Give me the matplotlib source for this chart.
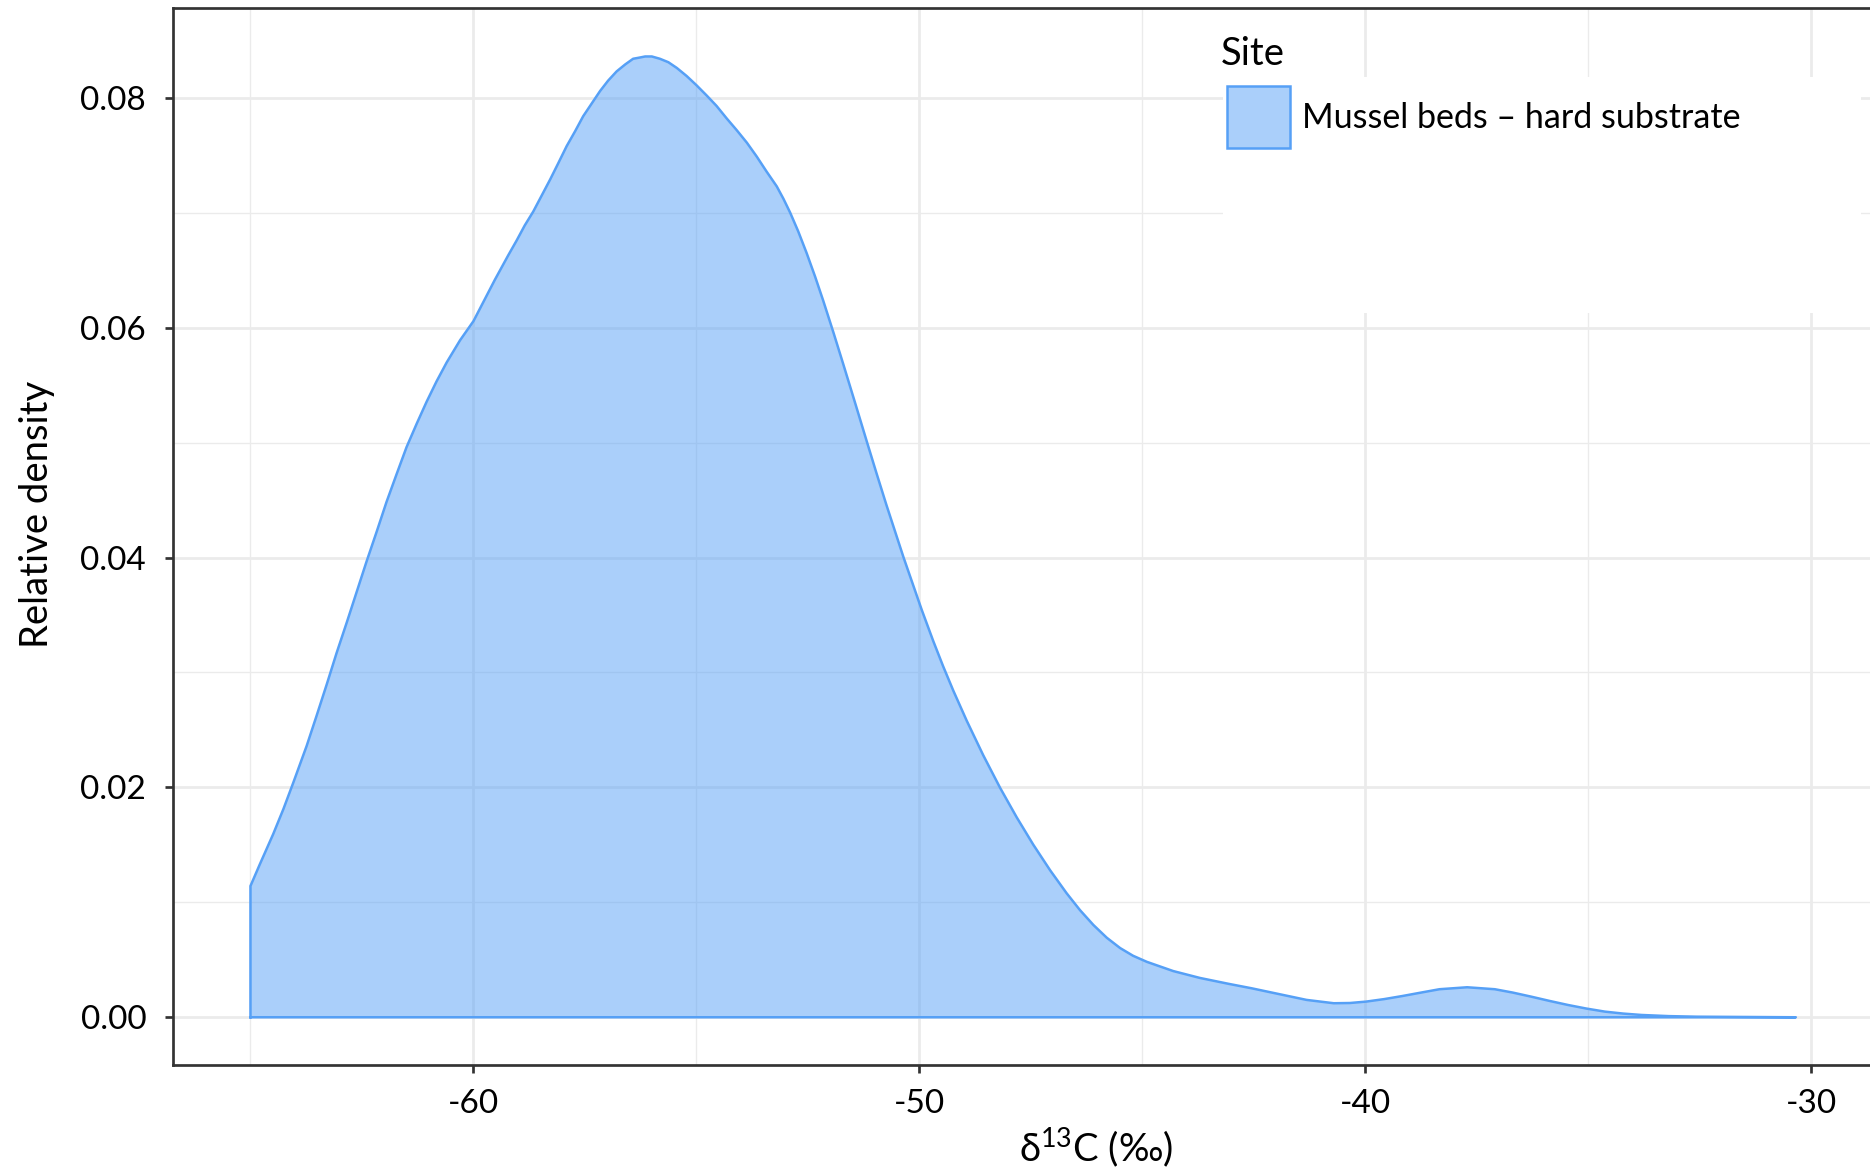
import matplotlib
matplotlib.use("Agg")
import matplotlib.pyplot as plt
from matplotlib.patches import Rectangle
from matplotlib.ticker import FixedLocator

plt.rcParams["font.family"] = ["Lato", "DejaVu Sans"]
plt.rcParams["mathtext.default"] = "regular"

# Kernel density of d13C for the mussel-bed site
d13c = [-65.00, -65.00, -64.79, -64.49, -64.26, -64.04, -63.74, -63.52, -63.29, -63.07,
        -62.84, -62.62, -62.40, -62.17, -61.95, -61.72, -61.50, -61.27, -61.05, -60.83,
        -60.60, -60.30, -60.00, -59.52, -59.22, -59.03, -58.85, -58.66, -58.47, -58.28,
        -58.10, -57.91, -57.72, -57.54, -57.35, -57.16, -56.98, -56.79, -56.60, -56.42,
        -56.28, -56.15, -56.00, -55.82, -55.63, -55.44, -55.22, -55.00, -54.77, -54.55,
        -54.32, -54.10, -53.87, -53.65, -53.43, -53.20, -53.05, -52.90, -52.72, -52.53,
        -52.34, -52.16, -51.93, -51.71, -51.45, -51.18, -50.96, -50.74, -50.36, -49.95,
        -49.69, -49.47, -49.24, -48.94, -48.57, -48.19, -47.82, -47.45, -47.07, -46.70,
        -46.40, -46.10, -45.80, -45.50, -45.21, -44.90, -44.31, -43.71, -43.07, -42.55,
        -42.04, -41.32, -40.71, -40.35, -39.99, -39.58, -39.17, -38.75, -38.34, -37.72,
        -37.10, -36.70, -36.28, -35.87, -35.46, -35.05, -34.63, -34.22, -33.81, -33.20,
        -32.57, -30.35]
density = [0.0, 0.01142, 0.01331, 0.01594, 0.01813, 0.02041, 0.02361, 0.02620, 0.02896, 0.03168,
           0.03436, 0.03699, 0.03962, 0.04225, 0.04483, 0.04729, 0.04961, 0.05167, 0.05356, 0.05531,
           0.05698, 0.05891, 0.06057, 0.06417, 0.0663, 0.0676, 0.0689, 0.0701, 0.0715, 0.0729,
           0.0743, 0.0758, 0.0771, 0.0784, 0.0795, 0.0806, 0.0815, 0.0823, 0.0829, 0.0834,
           0.0835, 0.0836, 0.0836, 0.0834, 0.0831, 0.0826, 0.0819, 0.0811, 0.0802, 0.0793,
           0.0782, 0.0772, 0.0761, 0.0749, 0.0736, 0.0723, 0.07122, 0.07002, 0.06840, 0.06650,
           0.06445, 0.06238, 0.05960, 0.05685, 0.05355, 0.05009, 0.04730, 0.04457, 0.04005, 0.03546,
           0.03273, 0.03055, 0.02841, 0.02580, 0.02280, 0.01995, 0.01740, 0.01503, 0.01279, 0.01079,
           0.00932, 0.00803, 0.00692, 0.00602, 0.00535, 0.00482, 0.00402, 0.00342, 0.00291, 0.00252,
           0.0021, 0.00151, 0.00122, 0.00124, 0.00136, 0.00158, 0.00185, 0.00215, 0.00244, 0.00261,
           0.00244, 0.00215, 0.00179, 0.00142, 0.00107, 0.00076, 0.00049, 0.00032, 0.0002, 0.0001,
           0.00005, 0.0]

site_label = "Mussel beds \u2013 hard substrate"
x_major = [-60, -50, -40, -30]
x_minor = [-65, -55, -45, -35]
x_tick_labels = ["-60", "-50", "-40", "-30"]
y_major = [0.00, 0.02, 0.04, 0.06, 0.08]
y_minor = [0.01, 0.03, 0.05, 0.07]
y_tick_labels = ["0.00", "0.02", "0.04", "0.06", "0.08"]

W, H = 1870, 1170
blue = "#56A0F6"
grid_col = "#EBEBEB"
spine_col = "#333333"

fig = plt.figure(figsize=(W / 100, H / 100), dpi=100)
ax = fig.add_axes([173.3 / W, 1 - 1065.3 / H, (1873 - 173.3) / W, (1065.3 - 8.2) / H])

ax.set_xlim(-66.73, -28.62)
ax.set_ylim(-0.00418, 0.0878)

# density area with full outline (baseline and left edge included)
ax.fill_between(d13c, density, 0, facecolor=blue, alpha=0.5, linewidth=0, zorder=2)
ax.plot(d13c + [d13c[0]], density + [density[0]], color=blue, lw=1.8,
        solid_joinstyle="round", zorder=3)

ax.xaxis.set_major_locator(FixedLocator(x_major))
ax.xaxis.set_minor_locator(FixedLocator(x_minor))
ax.yaxis.set_major_locator(FixedLocator(y_major))
ax.yaxis.set_minor_locator(FixedLocator(y_minor))
ax.set_xticklabels(x_tick_labels)
ax.set_yticklabels(y_tick_labels)

ax.set_axisbelow(True)
ax.grid(which="major", color=grid_col, lw=1.95)
ax.grid(which="minor", color=grid_col, lw=0.97)

for s in ax.spines.values():
    s.set_color(spine_col)
    s.set_linewidth(1.95)

ax.tick_params(which="major", length=5.5, width=1.95, color=spine_col,
               labelsize=24, labelcolor="black", pad=11.5)
ax.tick_params(axis="y", which="major", pad=14)
ax.tick_params(which="minor", length=0)

ax.set_xlabel("\u03b4$^{13}$C (\u2030)", fontsize=27.5, color="black")
ax.set_ylabel("Relative density", fontsize=27.5, color="black")
ax.xaxis.set_label_coords((1096 - 173.3) / 1699.7, (1065.3 - 1125) / 1057.1)
ax.yaxis.set_label_coords((55 - 173.3) / 1699.7, (1065.3 - 514.6) / 1057.1)

# legend: white panel over the grid, key swatch, title and label
ax.add_patch(Rectangle((1223 / W, 1 - 313 / H), (1861 - 1223) / W, (313 - 77) / H,
                       transform=fig.transFigure, facecolor="white", edgecolor="none",
                       zorder=1))
fig.patches.append(Rectangle((1226.5 / W, 1 - 147.5 / H), 63.5 / W, 61 / H,
                             transform=fig.transFigure, facecolor=blue, alpha=0.5,
                             edgecolor="none"))
fig.patches.append(Rectangle((1226.5 / W, 1 - 147.5 / H), 63.5 / W, 61 / H,
                             transform=fig.transFigure, facecolor="none",
                             edgecolor=blue, lw=1.8))
fig.text(1221 / W, 1 - 65 / H, "Site", fontsize=27.5, color="black",
         ha="left", va="baseline")
fig.text(1302 / W, 1 - 128.3 / H, site_label, fontsize=24.5, color="black",
         ha="left", va="baseline")

fig.savefig("out.png", dpi=100)
